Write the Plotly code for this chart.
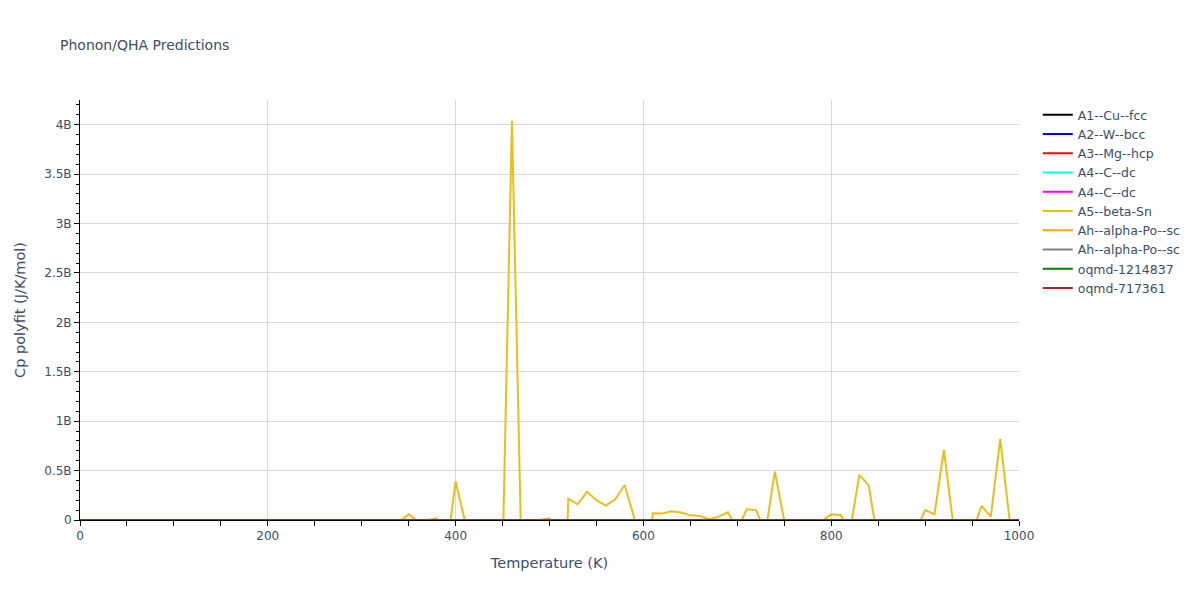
import plotly.graph_objects as go

# Temperature grid (K)
temps = list(range(0, 1000, 10))
temps_ref = list(range(0, 1001, 100))

# A5--beta-Sn polyfit Cp, in billions of J/K/mol
cp_a5_beta_sn_b = (
    [0.0] * 34 +
    [-0.02, 0.058, -0.015, -0.002, 0.016, -0.34, 0.39, -0.01, -0.2, -0.2,
     -0.2, -0.4, 4.04, -0.3, -0.1, 0.0, 0.016, -2.9, 0.216, 0.159,
     0.287, 0.2, 0.145, 0.21, 0.354, 0.03, -1.0, 0.068, 0.067, 0.088,
     0.075, 0.047, 0.04, 0.007, 0.034, 0.078, -0.1, 0.108, 0.1, -0.13,
     0.49, -0.01, -0.2, -0.2, -0.2, -0.01, 0.057, 0.05, -0.11, 0.456,
     0.348, -0.23, -0.2, -0.2, -0.2, -0.11, 0.1, 0.057, 0.709, -0.045,
     -0.2, -0.14, 0.142, 0.034, 0.82, 0.0]
)

# Other series: ordinary Cp values (J/K/mol), invisible at this scale
cp_a1_cu = [0.0, 16.3, 22.6, 23.9, 24.5, 24.9, 25.3, 25.7, 26.1, 26.5, 26.9]
cp_a2_w = [0.0, 15.8, 22.3, 23.8, 24.4, 24.8, 25.1, 25.4, 25.7, 26.0, 26.3]
cp_a3_mg = [0.0, 15.1, 21.8, 23.5, 24.2, 24.7, 25.2, 25.7, 26.2, 26.7, 27.2]
cp_a4_c1 = [0.0, 1.7, 5.1, 8.5, 11.4, 13.7, 15.5, 16.9, 18.0, 18.9, 19.6]
cp_a4_c2 = [0.0, 1.8, 5.3, 8.7, 11.6, 13.9, 15.7, 17.1, 18.2, 19.0, 19.7]
cp_ah_po1 = [0.0, 23.1, 24.6, 25.0, 25.2, 25.4, 25.6, 25.8, 26.0, 26.2, 26.4]
cp_ah_po2 = [0.0, 23.3, 24.7, 25.1, 25.3, 25.5, 25.7, 25.9, 26.1, 26.3, 26.5]
cp_oqmd_1214837 = [0.0, 18.2, 23.0, 24.2, 24.7, 25.0, 25.3, 25.6, 25.9, 26.2, 26.5]
cp_oqmd_717361 = [0.0, 19.4, 23.5, 24.5, 24.9, 25.2, 25.5, 25.8, 26.1, 26.4, 26.7]

series = [
    ("A1--Cu--fcc", temps_ref, cp_a1_cu, "black"),
    ("A2--W--bcc", temps_ref, cp_a2_w, "blue"),
    ("A3--Mg--hcp", temps_ref, cp_a3_mg, "red"),
    ("A4--C--dc", temps_ref, cp_a4_c1, "cyan"),
    ("A4--C--dc", temps_ref, cp_a4_c2, "magenta"),
    ("A5--beta-Sn", temps, [v * 1e9 for v in cp_a5_beta_sn_b], "#E9BE1C"),
    ("Ah--alpha-Po--sc", temps_ref, cp_ah_po1, "orange"),
    ("Ah--alpha-Po--sc", temps_ref, cp_ah_po2, "gray"),
    ("oqmd-1214837", temps_ref, cp_oqmd_1214837, "green"),
    ("oqmd-717361", temps_ref, cp_oqmd_717361, "brown"),
]

fig = go.Figure()
for name, x, y, color in series:
    fig.add_trace(go.Scatter(x=x, y=y, mode="lines", name=name,
                             line=dict(color=color, width=2)))

axis_common = dict(
    showgrid=True, gridcolor="#d9d9d9", gridwidth=1,
    showline=True, linecolor="black", linewidth=1,
    ticks="outside", ticklen=5, tickcolor="black",
    zeroline=False,
)

fig.update_layout(
    width=1200, height=600,
    title=dict(text="Phonon/QHA Predictions", font=dict(size=14)),
    paper_bgcolor="white", plot_bgcolor="white",
    font=dict(family="DejaVu Sans", color="#3b4d6b", size=12),
    xaxis=dict(title=dict(text="Temperature (K)", font=dict(size=14.5)),
               range=[0, 1000], dtick=200,
               minor=dict(dtick=50, ticks="outside", ticklen=5, tickcolor="black", showgrid=False),
               **axis_common),
    yaxis=dict(title=dict(text="Cp polyfit (J/K/mol)", font=dict(size=14.5)),
               range=[0, 4.25e9], dtick=0.5e9,
               minor=dict(dtick=1e8, ticks="outside", ticklen=3, tickcolor="black", showgrid=False),
               **axis_common),
    legend=dict(font=dict(size=12.5)),
    margin=dict(l=80, r=181, t=100, b=80),
)

fig.write_html("out.html", config={"displayModeBar": False},
               post_script="document.body.style.margin='0px';")
